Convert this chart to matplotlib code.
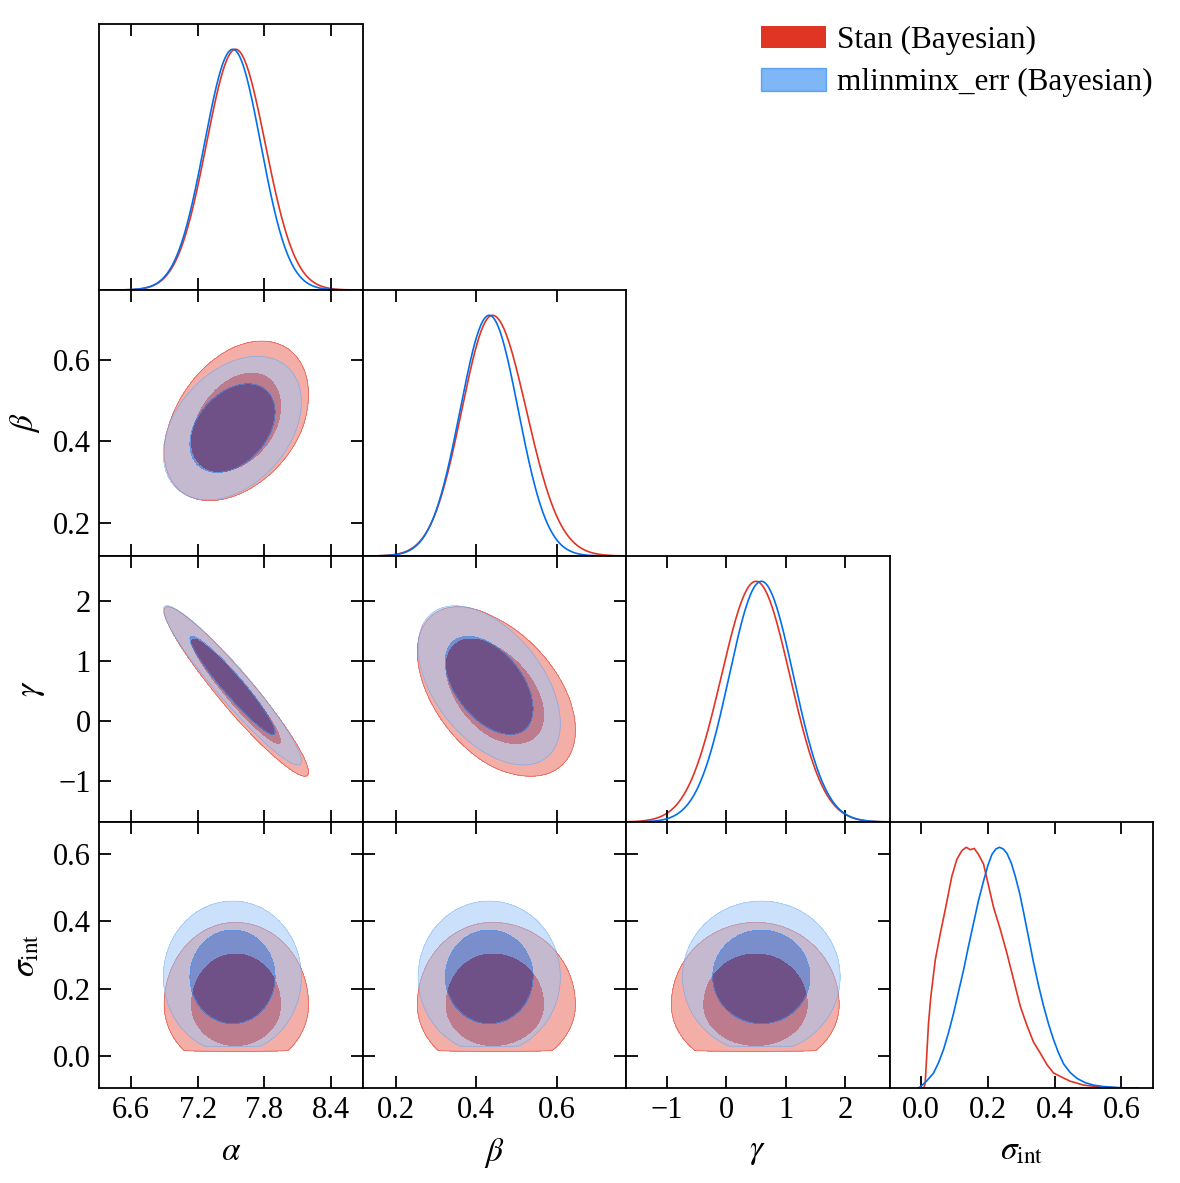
import numpy as np
import matplotlib.pyplot as plt
from matplotlib.patches import Patch
from matplotlib.colors import to_rgb

plt.rcParams['font.family'] = ['Liberation Serif', 'DejaVu Serif']
plt.rcParams['mathtext.fontset'] = 'stix'

# parameters, axis ranges and ticks
labels = [r'$\alpha$', r'$\beta$', r'$\gamma$', r'$\sigma_{\rm int}$']
limits = [(6.312, 8.682), (0.118, 0.771), (-1.68, 2.74), (-0.095, 0.695)]
ticks = [[6.6, 7.2, 7.8, 8.4], [0.2, 0.4, 0.6], [-1, 0, 1, 2], [0.0, 0.2, 0.4, 0.6]]
tick_labels = [['6.6', '7.2', '7.8', '8.4'], ['0.2', '0.4', '0.6'],
               ['\u22121', '0', '1', '2'], ['0.0', '0.2', '0.4', '0.6']]

# posterior summaries (alpha, beta, gamma, sigma_int)
# lower / upper widths differ where the posterior is skewed
stan_mean = [7.54, 0.440, 0.50, 0.152]
stan_sd_lo = [0.262, 0.076, 0.58, 0.080]
stan_sd_hi = [0.268, 0.084, 0.57, 0.100]
mlin_mean = [7.515, 0.432, 0.59, 0.235]
mlin_sd_lo = [0.255, 0.072, 0.54, 0.092]
mlin_sd_hi = [0.252, 0.072, 0.54, 0.092]
# correlations for pairs (a,b) (a,g) (b,g) (a,s) (b,s) (g,s)
pairs = [(0, 1), (0, 2), (1, 2), (0, 3), (1, 3), (2, 3)]
stan_corr = [0.36, -0.95, -0.46, 0.0, 0.0, 0.0]
mlin_corr = [0.36, -0.95, -0.48, 0.0, 0.0, 0.0]
# sigma_int can't go below ~0 -> lower edge of 2d contours
stan_sig_floor = 0.015
mlin_sig_floor = 0.027

# 1d marginal of sigma_int (not gaussian for Stan)
stan_sig_x = [0.008, 0.012, 0.022, 0.029, 0.042, 0.057, 0.072, 0.092, 0.107, 0.122, 0.135, 0.147,
              0.159, 0.172, 0.187, 0.202, 0.217, 0.237, 0.257, 0.277, 0.297, 0.317, 0.337, 0.357,
              0.377, 0.397, 0.417, 0.447, 0.487, 0.537, 0.597, 0.65]
stan_sig_y = [0.0, 0.02, 0.27, 0.38, 0.53, 0.64, 0.74, 0.88, 0.95, 0.986, 1.0, 0.99,
              0.995, 0.97, 0.93, 0.84, 0.75, 0.66, 0.56, 0.45, 0.34, 0.26, 0.19, 0.145,
              0.097, 0.062, 0.048, 0.028, 0.012, 0.004, 0.0, 0.0]
mlin_sig_x = [-0.008, 0.0, 0.017, 0.037, 0.052, 0.067, 0.082, 0.097, 0.112, 0.127, 0.142, 0.157,
              0.172, 0.187, 0.200, 0.212, 0.224, 0.235, 0.246, 0.257, 0.270, 0.282, 0.295,
              0.307, 0.322, 0.337, 0.352, 0.367, 0.382, 0.397, 0.412, 0.427, 0.447, 0.467,
              0.492, 0.517, 0.547, 0.577, 0.617, 0.65]
mlin_sig_y = [0.0, 0.008, 0.030, 0.062, 0.105, 0.16, 0.23, 0.31, 0.40, 0.49, 0.59, 0.685,
              0.78, 0.86, 0.925, 0.97, 0.993, 1.0, 0.993, 0.975, 0.935, 0.88, 0.81,
              0.73, 0.625, 0.52, 0.425, 0.34, 0.265, 0.20, 0.145, 0.10, 0.064, 0.04,
              0.022, 0.012, 0.006, 0.003, 0.0, 0.0]

red = '#E03424'
blue = '#006FED'


def pale(c, f=0.6):
    return tuple(v * (1 - f) + f for v in to_rgb(c))


chains = [
    dict(mean=stan_mean, lo=stan_sd_lo, hi=stan_sd_hi, corr=stan_corr, floor=stan_sig_floor,
         sx=stan_sig_x, sy=stan_sig_y, color=red, alpha=1.0, la=0.7, z=1),
    dict(mean=mlin_mean, lo=mlin_sd_lo, hi=mlin_sd_hi, corr=mlin_corr, floor=mlin_sig_floor,
         sx=mlin_sig_x, sy=mlin_sig_y, color=blue, alpha=0.5, la=0.25, z=2),
]


def scaled(v, ch, k):
    d = v - ch['mean'][k]
    return d / np.where(d < 0, ch['lo'][k], ch['hi'][k])


# 68% / 95% levels of a 2d gaussian
lev95 = np.exp(-5.991 / 2)
lev68 = np.exp(-2.279 / 2)

fig = plt.figure(figsize=(11.8, 11.83), dpi=100)
gs = fig.add_gridspec(4, 4, left=99 / 1180, right=1153 / 1180, top=1 - 24 / 1183,
                      bottom=1 - 1088 / 1183, hspace=0, wspace=0)

n = 4
for i in range(n):
    for j in range(n):
        if j > i:
            continue
        ax = fig.add_subplot(gs[i, j])
        ax.set_xlim(limits[j])
        if i == j:
            # 1d marginals
            xx = np.linspace(limits[j][0], limits[j][1], 400)
            for ch in chains:
                if j == 3:
                    ax.plot(ch['sx'], ch['sy'], color=ch['color'], lw=1.2, zorder=ch['z'])
                else:
                    yy = np.exp(-0.5 * scaled(xx, ch, j) ** 2)
                    ax.plot(xx, yy, color=ch['color'], lw=1.2, zorder=ch['z'])
            ax.set_ylim(0, 1.105)
            ax.set_yticks([])
        else:
            ax.set_ylim(limits[i])
            xg = np.linspace(limits[j][0], limits[j][1], 300)
            yg = np.linspace(limits[i][0], limits[i][1], 300)
            X, Y = np.meshgrid(xg, yg)
            for ch in chains:
                r = ch['corr'][pairs.index((j, i))]
                dx = scaled(X, ch, j)
                dy = scaled(Y, ch, i)
                Z = np.exp(-(dx ** 2 - 2 * r * dx * dy + dy ** 2) / (2 * (1 - r ** 2)))
                if i == 3:
                    Z[Y < ch['floor']] = 0
                ax.contourf(X, Y, Z, levels=[lev95, lev68, 2],
                            colors=[pale(ch['color']), ch['color']],
                            alpha=ch['alpha'], zorder=ch['z'])
                ax.contour(X, Y, Z, levels=[lev95], colors=[ch['color']],
                           linewidths=0.5, alpha=ch['la'], zorder=ch['z'])
            ax.set_yticks(ticks[i])
            ax.set_yticklabels(tick_labels[i])
        ax.set_xticks(ticks[j])
        ax.set_xticklabels(tick_labels[j])
        ax.tick_params(direction='in', length=8.5, width=1.3, top=True, right=(i != j),
                       left=(i != j), labelsize=22, pad=6,
                       labelbottom=(i == n - 1), labelleft=(j == 0 and i > 0))
        for s in ax.spines.values():
            s.set_linewidth(1.3)
        if i == n - 1:
            ax.set_xlabel(labels[j], fontsize=24, labelpad=8)
        if j == 0 and i > 0:
            ax.set_ylabel(labels[i], fontsize=24, labelpad=8)

handles = [Patch(facecolor=red, edgecolor='none'),
           Patch(facecolor=blue, alpha=0.5, edgecolor=blue)]
fig.legend(handles, ['Stan (Bayesian)', 'mlinminx_err (Bayesian)'], loc='upper right',
           bbox_to_anchor=(1153 / 1180, 1 - 26 / 1183), frameon=False, fontsize=22.5,
           handlelength=2.08, handleheight=0.73, handletextpad=0.38, labelspacing=0.42,
           borderpad=0, borderaxespad=0)

fig.savefig('out.png', dpi=100)
